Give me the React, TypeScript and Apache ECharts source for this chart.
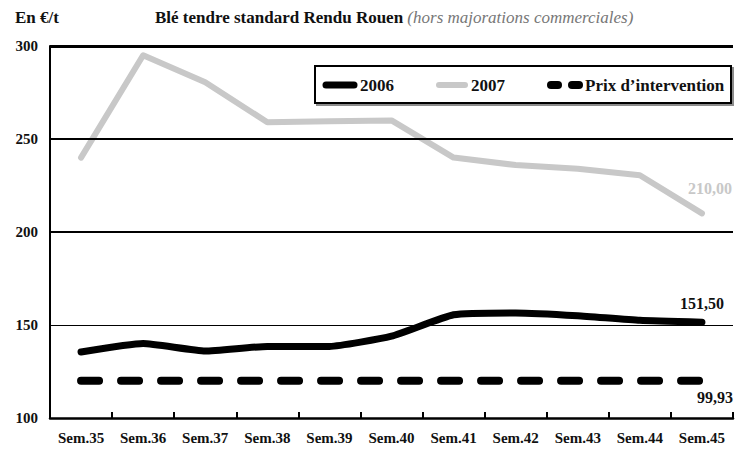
import React, { useEffect, useRef } from "react";
import * as echarts from "echarts";

const categories = ["Sem.35", "Sem.36", "Sem.37", "Sem.38", "Sem.39", "Sem.40", "Sem.41", "Sem.42", "Sem.43", "Sem.44", "Sem.45"];
const values2006 = [135.5, 140, 136, 138.5, 138.5, 144, 155.5, 156.5, 155, 152.5, 151.5];
const values2007 = [240, 295, 280.5, 259, 259.5, 260, 240, 236, 234, 230.5, 210];
// the intervention line is drawn at ~120 on the picture's scale, labelled 99,93
const valuesIntervention = [120, 120, 120, 120, 120, 120, 120, 120, 120, 120, 120];
const seriesNames = ["2006", "2007", "Prix d\u2019intervention"];
const endLabels = ["151,50", "210,00", "99,93"];
const gridValues = [300, 250, 200, 150];
const gridWidths = [3, 2, 2, 1.2];

const FONT = "'Liberation Serif', 'DejaVu Serif', serif";
const GRAY = "#c8c8c8";

function withEndLabel(values: number[], text: string, pos: string, offset: number[], color: string, distance: number) {
  return values.map((v, i) =>
    i === values.length - 1
      ? {
          value: v,
          label: {
            show: true,
            position: pos,
            distance,
            offset,
            formatter: text,
            color,
            fontFamily: FONT,
            fontWeight: "bold",
            fontSize: 16,
          },
        }
      : v
  );
}

const hiddenSymbol = {
  showSymbol: true,
  symbol: "circle",
  symbolSize: 1,
  itemStyle: { color: "rgba(0,0,0,0)" },
};

export default function App() {
  const ref = useRef<HTMLDivElement>(null);
  useEffect(() => {
    if (!ref.current) return;
    const chart = echarts.init(ref.current, null, { renderer: "svg" });
    const legendY = 85;
    const legendText = { fontFamily: FONT, fontWeight: "bold", fontSize: 17, fill: "#111", verticalAlign: "middle" };
    chart.setOption({
      animation: false,
      backgroundColor: "#ffffff",
      grid: { left: 50, right: 14, top: 46, bottom: 39 },
      xAxis: {
        type: "category",
        data: categories,
        boundaryGap: true,
        axisLine: { show: true, lineStyle: { color: "#000", width: 2.5 } },
        axisTick: { show: true, inside: true, length: 6, interval: 0, lineStyle: { color: "#000", width: 2 } },
        axisLabel: { color: "#111", fontFamily: FONT, fontWeight: "bold", fontSize: 15, margin: 12, interval: 0 },
        splitLine: { show: false },
      },
      yAxis: {
        type: "value",
        min: 100,
        max: 300,
        interval: 50,
        axisLine: { show: true, lineStyle: { color: "#000", width: 2 } },
        axisTick: { show: false },
        axisLabel: { color: "#111", fontFamily: FONT, fontWeight: "bold", fontSize: 15, margin: 12 },
        splitLine: { show: false },
      },
      graphic: [
        {
          type: "text",
          x: 15,
          y: 17,
          style: { text: "En \u20ac/t", fontFamily: FONT, fontWeight: "bold", fontSize: 17, fill: "#111", verticalAlign: "middle" },
        },
        {
          type: "text",
          x: 155,
          y: 17,
          style: {
            text: "{b|Bl\u00e9 tendre standard Rendu Rouen }{i|(hors majorations commerciales)}",
            verticalAlign: "middle",
            rich: {
              b: { fontFamily: FONT, fontWeight: "bold", fontSize: 17, fill: "#111" },
              i: { fontFamily: FONT, fontStyle: "italic", fontSize: 17, fill: "#777" },
            },
          },
        },
        {
          type: "rect",
          shape: { x: 315, y: 66, width: 416, height: 37 },
          style: { fill: "#fff", stroke: "#000", lineWidth: 2, shadowColor: "rgba(0,0,0,0.45)", shadowOffsetX: 2, shadowOffsetY: 2, shadowBlur: 1 },
          z: 10,
        },
        {
          type: "line",
          shape: { x1: 326, y1: legendY, x2: 354, y2: legendY },
          style: { stroke: "#000", lineWidth: 7, lineCap: "round" },
          z: 11,
        },
        { type: "text", x: 360, y: legendY, style: { ...legendText, text: seriesNames[0] }, z: 11 },
        {
          type: "line",
          shape: { x1: 439, y1: legendY, x2: 465, y2: legendY },
          style: { stroke: GRAY, lineWidth: 6, lineCap: "round" },
          z: 11,
        },
        { type: "text", x: 471, y: legendY, style: { ...legendText, text: seriesNames[1] }, z: 11 },
        {
          type: "line",
          shape: { x1: 551, y1: legendY, x2: 558, y2: legendY },
          style: { stroke: "#000", lineWidth: 8, lineCap: "round" },
          z: 11,
        },
        {
          type: "line",
          shape: { x1: 572, y1: legendY, x2: 579, y2: legendY },
          style: { stroke: "#000", lineWidth: 8, lineCap: "round" },
          z: 11,
        },
        { type: "text", x: 585, y: legendY, style: { ...legendText, text: seriesNames[2] }, z: 11 },
      ],
      series: [
        {
          type: "line",
          name: "grid",
          data: [],
          silent: true,
          z: 1,
          markLine: {
            silent: true,
            symbol: ["none", "none"],
            label: { show: false },
            data: gridValues.map((v, i) => ({ yAxis: v, lineStyle: { color: "#000", width: gridWidths[i], type: "solid" } })),
          },
        },
        {
          type: "line",
          name: seriesNames[2],
          data: withEndLabel(valuesIntervention, endLabels[2], "bottom", [13, 0], "#111", 8),
          ...hiddenSymbol,
          z: 3,
          lineStyle: { color: "#000", width: 8, type: [18, 22], cap: "round" },
        },
        {
          type: "line",
          name: seriesNames[1],
          data: withEndLabel(values2007, endLabels[1], "top", [8, -6], GRAY, 10),
          ...hiddenSymbol,
          z: 3,
          lineStyle: { color: GRAY, width: 6, cap: "round", join: "round" },
        },
        {
          type: "line",
          name: seriesNames[0],
          data: withEndLabel(values2006, endLabels[0], "top", [0, -2], "#111", 8),
          smooth: 0.15,
          ...hiddenSymbol,
          z: 4,
          lineStyle: { color: "#000", width: 7, cap: "round", join: "round" },
        },
      ],
    });
    return () => chart.dispose();
  }, []);
  return <div ref={ref} style={{ width: 747, height: 457, position: "absolute", left: 0, top: 0 }} />;
}
